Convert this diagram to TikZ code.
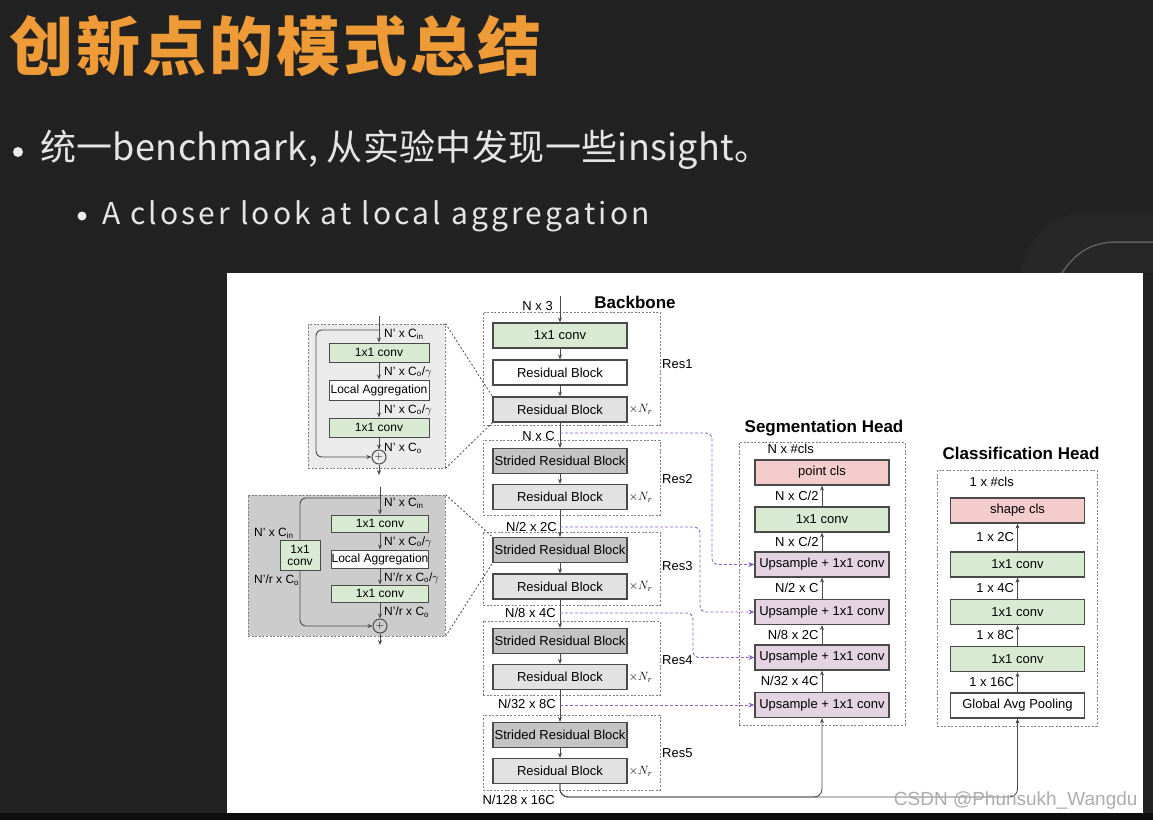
\documentclass[tikz,border=0pt]{standalone}
\usepackage{fontspec}
\setmainfont{Liberation Sans}
\newfontfamily\cjk{Noto Sans CJK SC}
\usepackage{tikz}
\usetikzlibrary{arrows.meta,positioning,calc}

\definecolor{slidebg}{HTML}{222222}
\definecolor{titleorange}{HTML}{EE9A36}
\definecolor{convgreen}{HTML}{D9EAD3}
\definecolor{clspink}{HTML}{F4CCCC}
\definecolor{upmauve}{HTML}{E4D4E2}
\definecolor{resgray}{HTML}{E2E2E2}
\definecolor{strgray}{HTML}{C4C4C4}
\definecolor{skippurple}{HTML}{8B62C8}
\definecolor{edgegray}{HTML}{4A4A4A}

\tikzset{
  blk/.style={draw=edgegray,line width=1.2pt,minimum width=134pt,minimum height=25pt,
              inner sep=0pt,font=\fontsize{13}{13}\selectfont},
  convblk/.style={blk,fill=convgreen},
  resblk/.style={blk,fill=resgray},
  strblk/.style={blk,fill=strgray},
  upblk/.style={blk,fill=upmauve},
  clsblk/.style={blk,fill=clspink},
  plainblk/.style={blk,fill=white},
  subblk/.style={draw=edgegray,line width=1pt,minimum width=100pt,minimum height=19pt,
                 inner sep=0pt,font=\fontsize{12}{12}\selectfont},
  grp/.style={draw=gray,line width=0.9pt,dash pattern=on 2pt off 1.6pt,inner sep=0pt},
  dimlbl/.style={font=\fontsize{13}{13}\selectfont,inner sep=1pt},
  sublbl/.style={font=\fontsize{12}{12}\selectfont,inner sep=1pt},
  headlbl/.style={font=\fontsize{17}{17}\selectfont\bfseries},
  flow/.style={-{Stealth[length=5pt,width=4pt]},line width=0.9pt,draw=edgegray},
  skipln/.style={-{Stealth[length=6pt,width=5pt]},draw=skippurple,line width=0.9pt,
                 dash pattern=on 3pt off 2pt,rounded corners=6pt},
  zoomln/.style={draw=black!70,line width=0.8pt,dash pattern=on 2pt off 2pt},
  addop/.style={circle,draw=edgegray,line width=1pt,minimum size=14pt,inner sep=0pt,
                font=\fontsize{11}{11}\selectfont},
}

\begin{document}
\begin{tikzpicture}[x=1pt,y=-1pt]
  \useasboundingbox (0,0) rectangle (1153,820);
  % Slide background
  \fill[slidebg] (0,0) rectangle (1153,820);
  \fill[white!2!slidebg] (1020,273) .. controls (1032,232) and (1052,213) .. (1090,213)
        -- (1153,213) -- (1153,273) -- cycle;
  \draw[white!27!slidebg,line width=1.5pt] (1062,273) .. controls (1076,252) and (1092,242) .. (1117,242) -- (1153,242);
  \fill[black!95] (0,813) rectangle (1153,820);
  % Title and bullets
  \node[anchor=west,inner sep=0pt,text=titleorange,
        font={\cjk\bfseries\fontsize{64}{64}\selectfont\addfontfeature{LetterSpace=4.5}}] (title) at (9,46) {创新点的模式总结};
  \fill[white!92!black] (18,152) circle (5);
  \node[anchor=west,inner sep=0pt,text=white!90!black,
        font={\cjk\fontsize{36}{36}\selectfont\addfontfeature{LetterSpace=1}}] (item1) at (40,150) {统一benchmark, 从实验中发现一些insight。};
  \fill[white!92!black] (82,216) circle (4.5);
  \node[anchor=west,inner sep=0pt,text=white!90!black,
        font={\cjk\fontsize{30}{30}\selectfont\addfontfeature{LetterSpace=10.5}}] (item2) at (102,216) {A closer look at local aggregation};
  % White panel
  \node[fill=white,minimum width=916pt,minimum height=540pt,inner sep=0pt] (panel) at (685,543) {};

  % Residual block detail
  \node[grp,fill=black!8,minimum width=137pt,minimum height=144pt] (lab1) at (376.5,396) {};
  \node[subblk,fill=convgreen] (b1c1) at (379,352.5) {1x1 conv};
  \node[subblk,fill=white,minimum height=20pt] (b1la) at (379,390) {Local Aggregation};
  \node[subblk,fill=convgreen] (b1c2) at (379,427.5) {1x1 conv};
  \node[addop] (b1add) at (379,457) {$+$};
  \coordinate (b1top) at (379,316);
  \coordinate (b1tap) at (379,330);
  \coordinate (b1out) at (379,475);
  \draw[flow] (b1top) -- (b1c1.north);
  \draw[flow] (b1c1.south) -- (b1la.north);
  \draw[flow] (b1la.south) -- (b1c2.north);
  \draw[flow] (b1c2.south) -- (b1add.north);
  \draw[flow] (b1add.south) -- (b1out);
  \draw[flow,rounded corners=6pt] (b1tap) -- ++(-63,0) |- (b1add.west);
  \node[sublbl,anchor=west] (b1d0) at (383,334) {N' x C\textsubscript{in}};
  \node[sublbl,anchor=west] (b1d1) at (383,372) {N' x C\textsubscript{o}/$\gamma$};
  \node[sublbl,anchor=west] (b1d2) at (383,410) {N' x C\textsubscript{o}/$\gamma$};
  \node[sublbl,anchor=west] (b1d3) at (383,448) {N' x C\textsubscript{o}};

  % Strided residual block detail
  \node[grp,fill=black!20,minimum width=197pt,minimum height=141pt] (lab2) at (346.5,565.5) {};
  \node[subblk,fill=convgreen,minimum width=97pt,minimum height=17pt] (b2c1) at (380,523.5) {1x1 conv};
  \node[subblk,fill=white,minimum width=97pt,minimum height=18pt] (b2la) at (380,559) {Local Aggregation};
  \node[subblk,fill=convgreen,minimum width=97pt,minimum height=17pt] (b2c2) at (380,593.5) {1x1 conv};
  \node[subblk,fill=convgreen,minimum width=40pt,minimum height=30pt,align=center] (b2sc) at (300,555) {1x1\\conv};
  \node[addop] (b2add) at (380,626) {$+$};
  \coordinate (b2top) at (380,487);
  \coordinate (b2tap) at (380,498);
  \coordinate (b2out) at (380,645);
  \draw[flow] (b2top) -- (b2c1.north);
  \draw[flow] (b2c1.south) -- (b2la.north);
  \draw[flow] (b2la.south) -- (b2c2.north);
  \draw[flow] (b2c2.south) -- (b2add.north);
  \draw[flow] (b2add.south) -- (b2out);
  \draw[line width=0.9pt,draw=edgegray,rounded corners=6pt] (b2tap) -| (b2sc.north);
  \draw[flow,rounded corners=6pt] (b2sc.south) |- (b2add.west);
  \node[sublbl,anchor=west] (b2d0) at (383,503) {N' x C\textsubscript{in}};
  \node[sublbl,anchor=west] (b2d1) at (383,542) {N' x C\textsubscript{o}/$\gamma$};
  \node[sublbl,anchor=west] (b2d2) at (383,578) {N'/r x C\textsubscript{o}/$\gamma$};
  \node[sublbl,anchor=west] (b2d3) at (383,612) {N'/r x C\textsubscript{o}};
  \node[sublbl,anchor=west] (b2s0) at (253,533) {N' x C\textsubscript{in}};
  \node[sublbl,anchor=west] (b2s1) at (253,580) {N'/r x C\textsubscript{o}};

  % Backbone
  \node[headlbl] (bbtitle) at (635,302) {Backbone};
  \node[grp,minimum width=177pt,minimum height=113pt] (res1grp) at (571.5,368.5) {};
  \node[grp,minimum width=177pt,minimum height=75pt] (res2grp) at (571.5,477.5) {};
  \node[grp,minimum width=177pt,minimum height=73pt] (res3grp) at (571.5,568.5) {};
  \node[grp,minimum width=177pt,minimum height=74pt] (res4grp) at (571.5,658) {};
  \node[grp,minimum width=177pt,minimum height=75pt] (res5grp) at (571.5,752.5) {};
  \node[convblk] (conv0) at (560,335.5) {1x1 conv};
  \node[plainblk] (res1a) at (560,372.5) {Residual Block};
  \node[resblk] (res1b) at (560,409.5) {Residual Block};
  \node[strblk] (str2) at (560,461) {Strided Residual Block};
  \node[resblk] (res2) at (560,497) {Residual Block};
  \node[strblk] (str3) at (560,550) {Strided Residual Block};
  \node[resblk] (res3) at (560,586.5) {Residual Block};
  \node[strblk] (str4) at (560,641) {Strided Residual Block};
  \node[resblk] (res4) at (560,677) {Residual Block};
  \node[strblk] (str5) at (560,735) {Strided Residual Block};
  \node[resblk] (res5) at (560,771) {Residual Block};
  \foreach \r/\y in {1/364,2/479,3/566,4/660,5/753}
    \node[dimlbl,anchor=west] (reslbl\r) at (661,\y) {Res\r};
  \foreach \b in {res1b,res2,res3,res4,res5}
    \node[dimlbl,anchor=west] at (\b.east) {$\times N_r$};
  \coordinate (bbin) at (560,296);
  \draw[flow] (bbin) -- (conv0.north);
  \draw[flow] (conv0.south) -- (res1a.north);
  \draw[flow] (res1a.south) -- (res1b.north);
  \draw[flow] (res1b.south) -- (str2.north);
  \draw[flow] (str2.south) -- (res2.north);
  \draw[flow] (res2.south) -- (str3.north);
  \draw[flow] (str3.south) -- (res3.north);
  \draw[flow] (res3.south) -- (str4.north);
  \draw[flow] (str4.south) -- (res4.north);
  \draw[flow] (res4.south) -- (str5.north);
  \draw[flow] (str5.south) -- (res5.north);
  \node[dimlbl,anchor=east] (dim0) at (554,306) {N x 3};
  \node[dimlbl,anchor=east] (dim1) at (556,436) {N x C};
  \node[dimlbl,anchor=east] (dim2) at (558,527) {N/2 x 2C};
  \node[dimlbl,anchor=east] (dim3) at (557,613) {N/8 x 4C};
  \node[dimlbl,anchor=east] (dim4) at (557,704) {N/32 x 8C};
  \node[dimlbl,anchor=east] (dim5) at (556,800) {N/128 x 16C};
  % zoom-in guides
  \draw[zoomln] (lab1.north east) -- (res1b.north west);
  \draw[zoomln] (lab1.south east) -- (res1b.south west);
  \draw[zoomln] (lab2.north east) -- (str3.north west);
  \draw[zoomln] (lab2.south east) -- (str3.south west);

  % Segmentation head
  \node[headlbl] (segtitle) at (824,428) {Segmentation Head};
  \node[grp,minimum width=166pt,minimum height=283pt] (seggrp) at (822,583.5) {};
  \node[clsblk] (pcls) at (822,472.5) {point cls};
  \node[convblk] (sconv) at (822,519.5) {1x1 conv};
  \node[upblk] (up1) at (822,564.5) {Upsample + 1x1 conv};
  \node[upblk] (up2) at (822,612) {Upsample + 1x1 conv};
  \node[upblk] (up3) at (822,657.5) {Upsample + 1x1 conv};
  \node[upblk] (up4) at (822,705) {Upsample + 1x1 conv};
  \node[dimlbl,anchor=east] (sd0) at (815,449) {N x \#cls};
  \draw[flow] (sconv.north) -- (pcls.south) node[dimlbl,midway,left=2pt] (sd1) {N x C/2};
  \draw[flow] (up1.north) -- (sconv.south) node[dimlbl,midway,left=2pt] (sd2) {N x C/2};
  \draw[flow] (up2.north) -- (up1.south) node[dimlbl,midway,left=2pt] (sd3) {N/2 x C};
  \draw[flow] (up3.north) -- (up2.south) node[dimlbl,midway,left=2pt] (sd4) {N/8 x 2C};
  \draw[flow] (up4.north) -- (up3.south) node[dimlbl,midway,left=2pt] (sd5) {N/32 x 4C};
  % skip connections
  \coordinate (tap1) at (560,433);
  \coordinate (tap2) at (560,527);
  \coordinate (tap3) at (560,613);
  \coordinate (tap4) at (560,705);
  \draw[skipln] (tap1) -- (712,433) |- (up1.west);
  \draw[skipln] (tap2) -- (700,527) |- (up2.west);
  \draw[skipln] (tap3) -- (693,613) |- (up3.west);
  \draw[skipln] (tap4) -- (up4.west);

  % Classification head
  \node[headlbl] (clstitle) at (1021,453) {Classification Head};
  \node[grp,minimum width=160pt,minimum height=256pt] (clsgrp) at (1017,598) {};
  \node[clsblk] (scls) at (1017.5,510.5) {shape cls};
  \node[convblk] (cc1) at (1017.5,564.5) {1x1 conv};
  \node[convblk] (cc2) at (1017.5,612) {1x1 conv};
  \node[convblk] (cc3) at (1017.5,659) {1x1 conv};
  \node[plainblk] (gap) at (1017.5,705.5) {Global Avg Pooling};
  \node[dimlbl,anchor=east] (cd0) at (1015,482) {1 x \#cls};
  \draw[flow] (cc1.north) -- (scls.south) node[dimlbl,midway,left=2pt] (cd1) {1 x 2C};
  \draw[flow] (cc2.north) -- (cc1.south) node[dimlbl,midway,left=2pt] (cd2) {1 x 4C};
  \draw[flow] (cc3.north) -- (cc2.south) node[dimlbl,midway,left=2pt] (cd3) {1 x 8C};
  \draw[flow] (gap.north) -- (cc3.south) node[dimlbl,midway,left=2pt] (cd4) {1 x 16C};

  % Backbone output to both heads
  \coordinate (bend) at (560,797);
  \draw[flow,rounded corners=8pt] (res5.south) -- (bend) -| (gap.south);
  \draw[flow,rounded corners=8pt] (res5.south) -- (bend) -| (up4.south);

  % Watermark
  \node[anchor=east,text=black!32,font=\fontsize{19}{19}\selectfont] (wm) at (1141,801) {CSDN @Phunsukh\_Wangdu};
\end{tikzpicture}
\end{document}
